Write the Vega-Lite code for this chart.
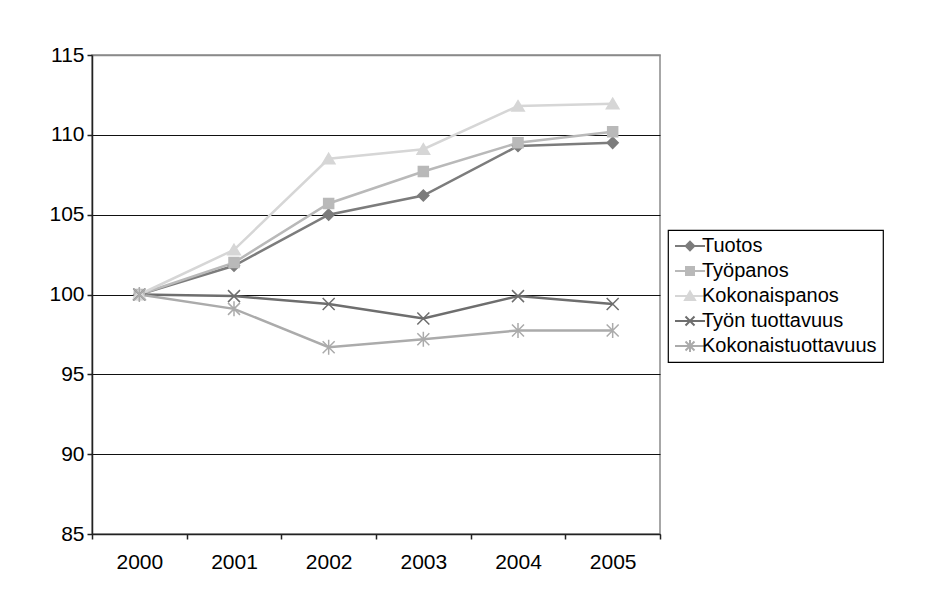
{
  "$schema": "https://vega.github.io/schema/vega-lite/v6.json",
  "autosize": {"type": "none"},
  "padding": {"left": 92, "top": 55, "right": 276, "bottom": 80},
  "width": 568,
  "height": 479,
  "background": "#ffffff",
  "config": {
    "font": "Liberation Sans",
    "view": {"stroke": "#8a8a8a", "strokeWidth": 1.5},
    "axis": {"labelFont": "Liberation Sans", "labelFontSize": 21, "labelColor": "#000", "domainColor": "#222", "tickColor": "#222", "domainWidth": 1.5, "tickWidth": 1.5},
    "legend": {
      "orient": "none", "legendX": 576, "legendY": 175,
      "title": null,
      "labelFont": "Liberation Sans", "labelFontSize": 20, "labelColor": "#000", "labelLimit": 400,
      "strokeColor": "#000", "strokeWidth": 1.2, "fillColor": "#fff",
      "padding": 6, "rowPadding": 5, "cornerRadius": 0,
      "symbolSize": 100, "symbolStrokeWidth": 2, "symbolOffset": 6, "labelOffset": 2
    }
  },
  "data": {
    "values": [
      {"year": "2000", "series": "Tuotos", "value": 100},
      {"year": "2001", "series": "Tuotos", "value": 101.8},
      {"year": "2002", "series": "Tuotos", "value": 105.0},
      {"year": "2003", "series": "Tuotos", "value": 106.2},
      {"year": "2004", "series": "Tuotos", "value": 109.3},
      {"year": "2005", "series": "Tuotos", "value": 109.5},
      {"year": "2000", "series": "Työpanos", "value": 100},
      {"year": "2001", "series": "Työpanos", "value": 102.0},
      {"year": "2002", "series": "Työpanos", "value": 105.7},
      {"year": "2003", "series": "Työpanos", "value": 107.7},
      {"year": "2004", "series": "Työpanos", "value": 109.5},
      {"year": "2005", "series": "Työpanos", "value": 110.2},
      {"year": "2000", "series": "Kokonaispanos", "value": 100},
      {"year": "2001", "series": "Kokonaispanos", "value": 102.8},
      {"year": "2002", "series": "Kokonaispanos", "value": 108.5},
      {"year": "2003", "series": "Kokonaispanos", "value": 109.1},
      {"year": "2004", "series": "Kokonaispanos", "value": 111.8},
      {"year": "2005", "series": "Kokonaispanos", "value": 111.95},
      {"year": "2000", "series": "Työn tuottavuus", "value": 100},
      {"year": "2001", "series": "Työn tuottavuus", "value": 99.9},
      {"year": "2002", "series": "Työn tuottavuus", "value": 99.4},
      {"year": "2003", "series": "Työn tuottavuus", "value": 98.5},
      {"year": "2004", "series": "Työn tuottavuus", "value": 99.9},
      {"year": "2005", "series": "Työn tuottavuus", "value": 99.4},
      {"year": "2000", "series": "Kokonaistuottavuus", "value": 100},
      {"year": "2001", "series": "Kokonaistuottavuus", "value": 99.1},
      {"year": "2002", "series": "Kokonaistuottavuus", "value": 96.7},
      {"year": "2003", "series": "Kokonaistuottavuus", "value": 97.2},
      {"year": "2004", "series": "Kokonaistuottavuus", "value": 97.75},
      {"year": "2005", "series": "Kokonaistuottavuus", "value": 97.75}
    ]
  },
  "encoding": {
    "x": {
      "field": "year", "type": "ordinal", "title": null,
      "scale": {"type": "band", "paddingInner": 0, "paddingOuter": 0},
      "axis": {"labelAngle": 0, "tickBand": "extent", "tickExtra": true, "tickSize": 5, "labelPadding": 12, "grid": false}
    },
    "y": {
      "field": "value", "type": "quantitative", "title": null,
      "scale": {"domain": [85, 115], "nice": false, "zero": false},
      "axis": {
        "values": [85, 90, 95, 100, 105, 110, 115],
        "tickSize": 5, "labelPadding": 3, "grid": true,
        "gridColor": {"condition": {"test": "datum.value === 115", "value": "#8a8a8a"}, "value": "#111"},
        "gridWidth": {"condition": {"test": "datum.value === 115", "value": 1.5}, "value": 1}
      }
    }
  },
  "layer": [
    {
      "mark": {"type": "line", "strokeWidth": 2.5},
      "encoding": {
        "detail": {"field": "series", "type": "nominal"},
        "stroke": {
          "field": "series", "type": "nominal", "legend": null,
          "scale": {
            "domain": ["Tuotos", "Työpanos", "Kokonaispanos", "Työn tuottavuus", "Kokonaistuottavuus"],
            "range": ["#7c7c7c", "#b9b9b9", "#d6d6d6", "#6e6e6e", "#ababab"]
          }
        }
      }
    },
    {
      "mark": {"type": "point", "size": 100, "strokeWidth": 1.5, "opacity": 1, "filled": true},
      "encoding": {
        "fill": {
          "field": "series", "type": "nominal", "legend": null,
          "scale": {
            "domain": ["Tuotos", "Työpanos", "Kokonaispanos", "Työn tuottavuus", "Kokonaistuottavuus"],
            "range": ["#7c7c7c", "#b9b9b9", "#d6d6d6", "#6e6e6e", "#ababab"]
          }
        },
        "stroke": {"field": "series", "type": "nominal", "legend": null},
        "shape": {
          "field": "series", "type": "nominal", "legend": null,
          "scale": {
            "domain": ["Tuotos", "Työpanos", "Kokonaispanos", "Työn tuottavuus", "Kokonaistuottavuus"],
            "range": [
              "M0,-1.1L1.1,0L0,1.1L-1.1,0Z",
              "M-1,-1H1V1H-1Z",
              "M0,-1.1L1.25,1H-1.25Z",
              "M-1.2,-1.2L1.2,1.2M-1.2,1.2L1.2,-1.2",
              "M-1.2,-1.2L1.2,1.2M-1.2,1.2L1.2,-1.2M0,-1.5V1.5"
            ]
          }
        }
      }
    },
    {
      "transform": [{"filter": "false"}],
      "mark": {"type": "point", "size": 100, "strokeWidth": 1.5, "opacity": 1, "filled": true},
      "encoding": {
        "fill": {"field": "series", "type": "nominal", "legend": {"title": null}},
        "stroke": {"field": "series", "type": "nominal", "legend": {"title": null}},
        "shape": {
          "field": "series", "type": "nominal", "legend": {"title": null},
          "scale": {
            "domain": ["Tuotos", "Työpanos", "Kokonaispanos", "Työn tuottavuus", "Kokonaistuottavuus"],
            "range": [
              "M-3,0H3M0,-0.85L0.85,0L0,0.85L-0.85,0Z",
              "M-3,0H3M-0.8,-0.8H0.8V0.8H-0.8Z",
              "M-3,0H3M0,-0.9L1,0.8H-1Z",
              "M-3,0H3M-0.9,-0.9L0.9,0.9M-0.9,0.9L0.9,-0.9",
              "M-3,0H3M-0.9,-0.9L0.9,0.9M-0.9,0.9L0.9,-0.9M0,-1.2V1.2"
            ]
          }
        }
      }
    }
  ],
  "resolve": {
    "scale": {"shape": "independent"},
    "legend": {"shape": "independent", "fill": "independent", "stroke": "independent"}
  }
}
